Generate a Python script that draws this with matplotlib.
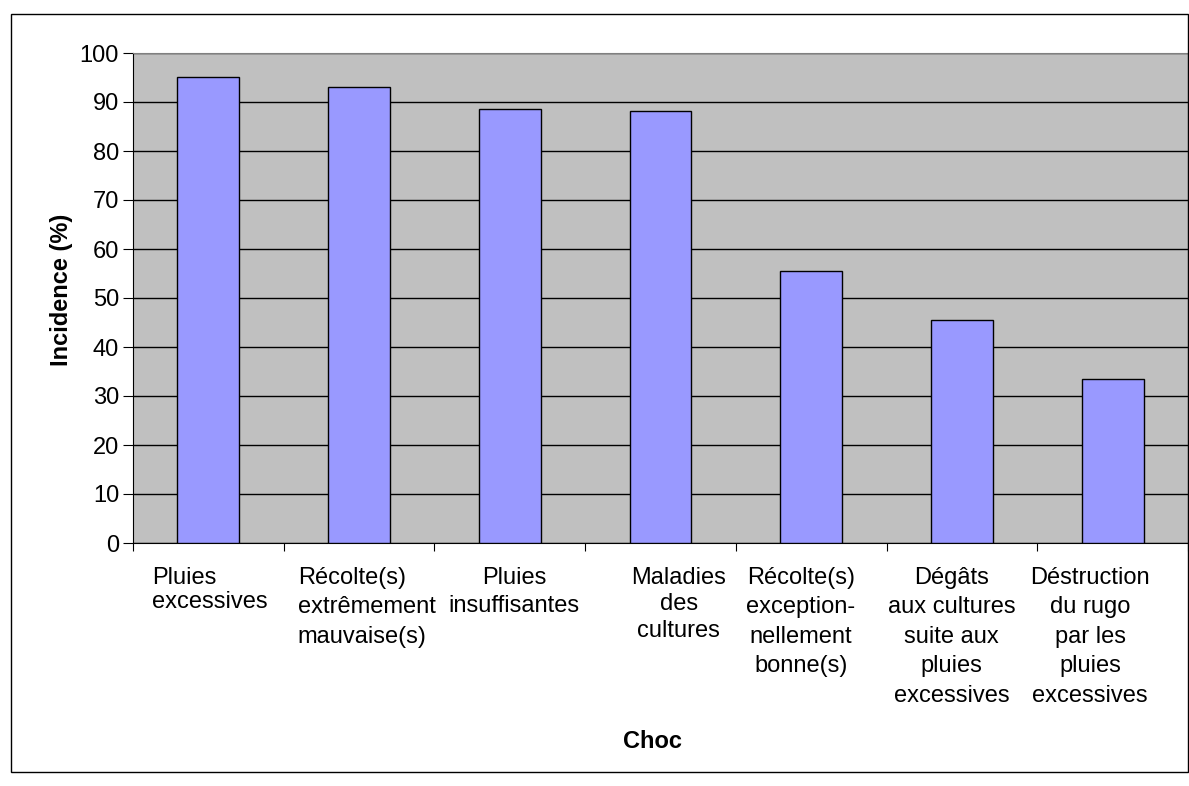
import matplotlib.pyplot as plt
from matplotlib.patches import Rectangle

plt.rcParams['font.family'] = ['Liberation Sans', 'DejaVu Sans']

chocs = ["Pluies\nexcessives",
         "Récolte(s)\nextrêmement\nmauvaise(s)",
         "Pluies\ninsuffisantes",
         "Maladies\ndes\ncultures",
         "Récolte(s)\nexception-\nnellement\nbonne(s)",
         "Dégâts\naux cultures\nsuite aux\npluies\nexcessives",
         "Déstruction\ndu rugo\npar les\npluies\nexcessives"]
incidence = [95.0, 93.0, 88.6, 88.2, 55.6, 45.6, 33.4]

# label tweaks (x offset in categories, alignment, line spacing)
lab_dx = [0.01, 0.05, 0.03, 0.12, -0.07, -0.07, -0.15]
lab_align = ["left", "left", "center", "center", "center", "center", "center"]
lab_ls = [1.15, 1.45, 1.38, 1.28, 1.45, 1.45, 1.45]

fig = plt.figure(figsize=(11.89, 7.86), dpi=100)
ax = fig.add_axes([133/1189, 1-543/786, (1188-133)/1189, (543-53)/786])
ax.set_facecolor('#C0C0C0')

x = list(range(len(chocs)))
ax.bar(x, incidence, width=0.41, color='#9999FF', edgecolor='black', linewidth=1, zorder=3)

ax.set_xlim(-0.5, len(chocs) - 0.5)
ax.set_ylim(0, 100)
ax.set_yticks(range(0, 101, 10))
ax.yaxis.grid(True, color='black', linewidth=1, zorder=1)
ax.set_axisbelow(True)
ax.tick_params(axis='y', labelsize=17, length=7, direction='out', pad=3)

ax.set_xticks([i - 0.5 for i in range(len(chocs) + 1)])
ax.set_xticklabels([])
ax.tick_params(axis='x', length=6, direction='out')

for i, lab in enumerate(chocs):
    ax.text(i + lab_dx[i], -0.048, lab, transform=ax.get_xaxis_transform(),
            ha='center', va='top', fontsize=17, multialignment=lab_align[i],
            linespacing=lab_ls[i])

for s in ['top', 'right']:
    ax.spines[s].set_color('#808080')
ax.spines['left'].set_color('black')
ax.spines['bottom'].set_color('black')

ax.set_ylabel('Incidence (%)', fontsize=17, fontweight='bold')
ax.yaxis.set_label_coords((73-133)/1055, 0.516)
fig.text(652/1189, 1-742/786, 'Choc', ha='center', va='center', fontsize=17, fontweight='bold')

fig.patches.append(Rectangle((11/1189, 1-772/786), (1188-11)/1189, (772-14)/786,
                             transform=fig.transFigure, fill=False,
                             edgecolor='black', linewidth=1))

fig.savefig('out.png', dpi=100)
